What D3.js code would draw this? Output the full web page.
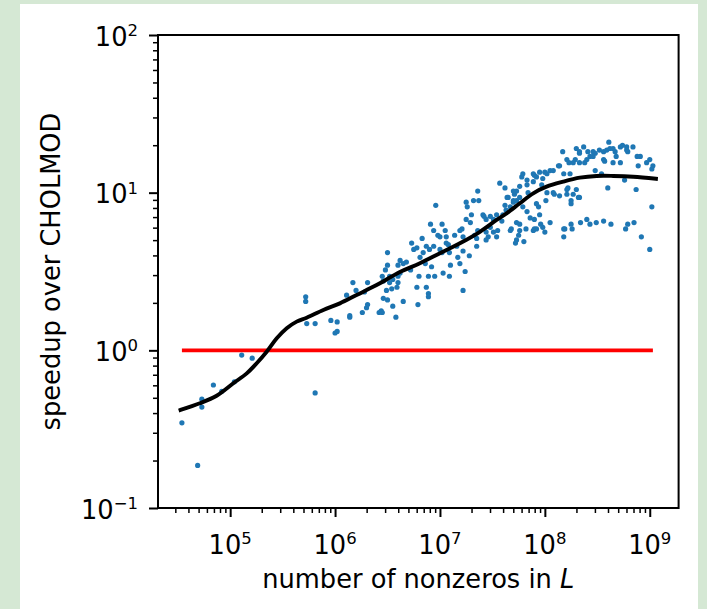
<!DOCTYPE html>
<html><head><meta charset="utf-8">
<script src="https://cdn.jsdelivr.net/npm/d3@7"></script>
<style>html,body{margin:0;padding:0;background:#d5e8d4}svg{display:block}</style>
</head><body>
<svg id="chart" width="707" height="609"></svg>
<script>
// ---- data (values stored as log10) ----
const nnzLog10 = [4.54,4.69,4.73,4.73,4.84,4.92,5.04,5.11,5.21,5.72,5.72,5.73,5.81,5.81,5.96,6.02,6.00,6.02,6.11,6.14,6.14,6.17,6.20,6.26,6.30,6.31,6.31,6.28,6.42,6.44,6.45,6.46,6.48,6.50,6.50,6.60,6.46,6.50,6.49,6.52,6.54,6.55,6.58,6.59,6.60,6.45,
6.62,6.60,6.65,6.68,6.72,6.73,6.79,6.78,6.80,6.83,6.81,6.84,6.86,6.87,6.89,6.89,6.89,6.87,6.90,6.94,6.95,6.96,6.92,6.91,6.94,6.98,7.00,7.02,7.03,7.02,7.05,7.06,7.08,7.09,7.10,7.09,7.14,7.16,7.17,7.19,7.21,7.22,7.22,7.24,7.25,7.26,7.25,7.29,7.30,7.32,7.28,7.36,7.37,7.33,7.35,7.36,7.35,7.41,7.42,7.44,7.46,7.44,7.48,7.51,7.54,7.51,7.55,7.54,
7.57,7.62,7.59,7.60,7.63,7.65,7.67,7.68,7.73,7.70,7.71,7.73,7.76,7.78,7.79,7.75,7.73,7.72,7.76,7.80,7.83,7.84,7.82,7.86,7.90,7.90,7.89,7.90,7.94,7.95,7.96,7.98,7.97,7.98,8.00,8.01,8.02,8.05,8.05,8.08,8.09,8.14,8.14,8.17,8.18,8.19,8.21,8.23,8.26,8.25,8.27,8.30,8.29,8.30,8.33,8.33,8.37,8.33,8.34,8.40,8.40,8.41,8.46,8.48,8.49,8.54,8.56,8.59,8.61,8.60,8.57,8.56,8.63,8.65,8.68,8.72,8.74,8.79,8.72,8.76,8.77,8.79,8.84,8.88,8.85,8.87,8.89,8.92,8.97,9.00,9.02,9.03,9.02,9.00,
8.62,8.78,8.52,8.56,8.67,8.48,8.43,8.38,8.27,8.21,8.24,8.18,8.13,8.02,7.95,7.89,7.83,7.70,7.64,7.62,7.73,7.79,7.83,7.92,8.21,8.25,8.32,8.22,8.08,7.92,7.89,7.76,7.67,8.00,8.18,8.25,8.43,
6.75,6.78,6.62,6.65,6.52,6.55,7.00,7.06,7.19,7.22,7.44,7.48,7.70,7.76,7.92,8.33,8.46,8.65,8.78,8.91];
const speedupLog10 = [-0.46,-0.73,-0.36,-0.31,-0.22,-0.26,-0.20,-0.03,-0.05,0.31,0.34,0.17,0.17,-0.27,0.19,0.18,0.11,0.12,0.35,0.22,0.21,0.43,0.38,0.24,0.27,0.29,0.43,0.37,0.24,0.25,0.47,0.44,0.51,0.54,0.62,0.54,0.33,0.32,0.38,0.43,0.39,0.28,0.21,0.40,0.47,0.24,
0.49,0.43,0.31,0.56,0.51,0.68,0.29,0.40,0.47,0.71,0.59,0.62,0.55,0.40,0.47,0.36,0.34,0.66,0.64,0.66,0.47,0.92,0.53,0.80,0.76,0.73,0.64,0.62,0.49,0.80,0.76,0.72,0.67,0.62,0.54,0.47,0.73,0.66,0.59,0.55,0.77,0.63,0.38,0.50,0.94,0.91,0.83,0.81,0.86,0.95,0.60,1.01,0.95,0.73,0.71,0.76,0.66,0.86,0.85,0.75,0.72,0.70,0.85,0.83,0.86,0.75,0.76,0.72,
1.06,1.03,0.82,0.86,0.89,0.97,0.91,0.77,0.81,0.94,0.99,1.01,1.04,1.10,1.12,0.73,0.70,0.68,0.80,0.69,1.05,1.00,0.77,0.84,0.83,0.77,1.07,1.11,0.91,0.86,0.80,0.78,1.05,1.09,1.13,0.95,1.00,0.81,1.14,1.14,0.99,0.98,1.17,1.26,0.72,0.77,1.02,1.19,0.77,0.95,0.99,1.02,1.21,1.28,1.25,1.19,1.29,0.97,0.81,0.83,1.21,1.26,1.26,1.14,0.81,1.12,1.26,1.27,1.32,1.03,1.20,0.82,0.80,1.19,1.23,1.29,1.30,1.26,1.19,1.08,0.77,0.80,1.29,1.23,0.81,1.02,1.17,0.72,1.19,1.21,1.15,1.17,0.91,0.64,
1.28,1.29,1.27,1.21,1.26,1.25,1.23,1.19,1.19,1.21,1.12,1.12,1.17,1.12,1.13,1.12,1.08,1.01,0.97,0.92,0.95,0.91,0.88,0.93,0.99,0.93,0.97,1.03,1.00,0.77,0.76,0.76,0.76,0.75,0.77,0.80,0.80,
0.64,0.65,0.57,0.55,0.47,0.45,0.72,0.68,0.76,0.72,0.83,0.78,0.95,0.97,1.10,1.26,1.23,1.28,1.27,1.23];
// smooth trend curve
const trendNnzLog10 = [4.527,4.711,4.871,5.030,5.158,5.253,5.348,5.444,5.539,5.634,5.729,5.888,6.046,6.205,6.396,6.618,6.809,7.000,7.190,7.381,7.540,7.635,7.762,7.889,8.016,8.175,8.334,8.493,8.652,8.842,9.059];
const trendSpeedupLog10 = [-0.378,-0.336,-0.288,-0.209,-0.146,-0.082,-0.009,0.076,0.140,0.182,0.207,0.256,0.298,0.351,0.414,0.497,0.552,0.616,0.679,0.752,0.827,0.869,0.933,0.996,1.038,1.070,1.095,1.106,1.106,1.101,1.088];
const baselineSpeedup = 1;
const xMajorExps = [5,6,7,8,9];
const yMajorExps = [-1,0,1,2];
const xLabel = "number of nonzeros in ";
const xLabelItalic = "L";
const yLabel = "speedup over CHOLMOD";

// ---- layout ----
const FONT = "'DejaVu Sans', sans-serif";
const FS = 25.7, SUP = 16.5;
const M = {left:158, right:678.6, top:35, bottom:508};
const svg = d3.select("#chart");
svg.append("rect").attr("x",20).attr("y",4).attr("width",678).attr("height",605).attr("fill","#ffffff");

const x = d3.scaleLog().domain([Math.pow(10,4.312), Math.pow(10,9.275)]).range([M.left, M.right]);
const y = d3.scaleLog().domain([0.1, 100]).range([M.bottom, M.top]);

const pts = nnzLog10.map((v,i)=>({x:Math.pow(10,v), y:Math.pow(10,speedupLog10[i])}));
const trend = trendNnzLog10.map((v,i)=>({x:Math.pow(10,v), y:Math.pow(10,trendSpeedupLog10[i])}));

function minorTicks(dom){
  const out=[]; const lo=Math.floor(Math.log10(dom[0])), hi=Math.ceil(Math.log10(dom[1]));
  for(let e=lo;e<=hi;e++) for(let k=2;k<=9;k++){const v=k*Math.pow(10,e); if(v>=dom[0]&&v<=dom[1]) out.push(v);}
  return out;
}
const xMajor = xMajorExps.map(e=>Math.pow(10,e));
const yMajor = yMajorExps.map(e=>Math.pow(10,e));

// scatter
svg.append("g").selectAll("circle").data(pts).join("circle")
  .attr("cx",d=>x(d.x)).attr("cy",d=>y(d.y)).attr("r",2.6).attr("fill","#1f77b4");

// baseline at speedup 1
const ext = d3.extent(pts,d=>d.x);
svg.append("line").attr("x1",x(ext[0])).attr("x2",x(ext[1]))
  .attr("y1",y(baselineSpeedup)).attr("y2",y(baselineSpeedup))
  .attr("stroke","#ff0000").attr("stroke-width",3.9);

// trend
svg.append("path").datum(trend)
  .attr("d", d3.line().x(d=>x(d.x)).y(d=>y(d.y)).curve(d3.curveCatmullRom))
  .attr("fill","none").attr("stroke","#000").attr("stroke-width",3.9).attr("stroke-linecap","square");

// axes ticks
function styleAxis(g, w){ g.select(".domain").remove(); g.selectAll("line").attr("stroke","#000").attr("stroke-width",w); }
svg.append("g").attr("transform",`translate(0,${M.bottom})`)
  .call(d3.axisBottom(x).tickValues(minorTicks(x.domain())).tickFormat("").tickSize(5)).call(g=>styleAxis(g,1.5));
svg.append("g").attr("transform",`translate(0,${M.bottom})`)
  .call(d3.axisBottom(x).tickValues(xMajor).tickFormat("").tickSize(9)).call(g=>styleAxis(g,2));
svg.append("g").attr("transform",`translate(${M.left},0)`)
  .call(d3.axisLeft(y).tickValues(minorTicks(y.domain())).tickFormat("").tickSize(5)).call(g=>styleAxis(g,1.5));
svg.append("g").attr("transform",`translate(${M.left},0)`)
  .call(d3.axisLeft(y).tickValues(yMajor).tickFormat("").tickSize(9)).call(g=>styleAxis(g,2));

// frame
svg.append("rect").attr("x",M.left).attr("y",M.top).attr("width",M.right-M.left).attr("height",M.bottom-M.top)
  .attr("fill","none").attr("stroke","#000").attr("stroke-width",2);

// tick labels
function powLabel(sel, exp){
  sel.append("tspan").text("10");
  sel.append("tspan").attr("font-size",SUP).attr("dy",-9.7).text(exp<0?"\u2212"+(-exp):String(exp));
}
xMajorExps.forEach(e=>{
  const t = svg.append("text").attr("x",x(Math.pow(10,e))).attr("y",M.bottom+46)
    .attr("text-anchor","middle").attr("font-family",FONT).attr("font-size",FS).attr("fill","#000");
  powLabel(t,e);
});
yMajorExps.forEach(e=>{
  const t = svg.append("text").attr("x",M.left-20).attr("y",y(Math.pow(10,e))+10.7)
    .attr("text-anchor","end").attr("font-family",FONT).attr("font-size",FS).attr("fill","#000");
  powLabel(t,e);
});

// axis labels
const xl = svg.append("text").attr("x",(M.left+M.right)/2).attr("y",588)
  .attr("text-anchor","middle").attr("font-family",FONT).attr("font-size",FS).attr("fill","#000");
xl.append("tspan").text(xLabel);
xl.append("tspan").attr("font-style","italic").text(xLabelItalic);
svg.append("text").attr("transform",`translate(60,${(M.top+M.bottom)/2}) rotate(-90)`)
  .attr("text-anchor","middle").attr("font-family",FONT).attr("font-size",FS).attr("fill","#000").text(yLabel);
</script>
</body></html>
